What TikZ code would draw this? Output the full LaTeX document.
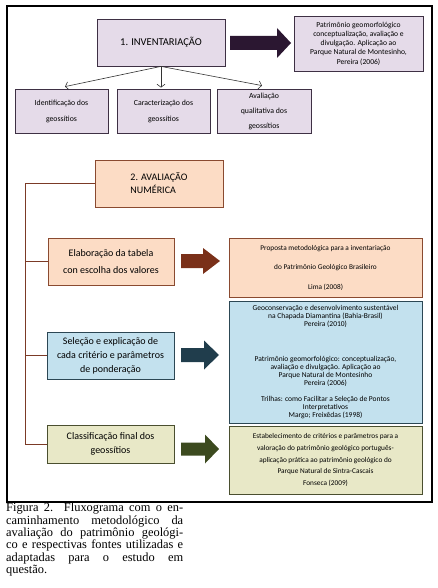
\documentclass[tikz,border=0pt]{standalone}
\usepackage{fontspec}
\newfontfamily\boxfont{Carlito}
\newfontfamily\capfont{Liberation Serif}
\usetikzlibrary{arrows.meta,calc}
\definecolor{lavfill}{HTML}{E5DBE9}
\definecolor{lavdraw}{HTML}{3E3044}
\definecolor{arrA}{HTML}{2B1731}
\definecolor{peachfill}{HTML}{FCDCC5}
\definecolor{peachdraw}{HTML}{8A4A30}
\definecolor{arrB}{HTML}{7A3019}
\definecolor{connc}{HTML}{7B3A26}
\definecolor{bluefill}{HTML}{C3E1EE}
\definecolor{bluedraw}{HTML}{2C4754}
\definecolor{arrC}{HTML}{203D4C}
\definecolor{olivefill}{HTML}{E8E8C7}
\definecolor{olivedraw}{HTML}{4A4F2F}
\definecolor{arrD}{HTML}{3C4A1F}
\newcommand\blockarr[7]{% color, tail x, base x, tip x, center y, shaft half, head half
  \fill[#1] (#2,#5-#6) -- (#3,#5-#6) -- (#3,#5-#7) -- (#4,#5) -- (#3,#5+#7) -- (#3,#5+#6) -- (#2,#5+#6) -- cycle;}
\begin{document}
\begin{tikzpicture}[x=1pt,y=-1pt,
  mybox/.style={draw, line width=0.8pt, inner sep=1pt, align=center, font=\boxfont},
  pbox/.style={mybox, draw=lavdraw, fill=lavfill},
  obox/.style={mybox, draw=peachdraw, fill=peachfill},
  bbox/.style={mybox, draw=bluedraw, fill=bluefill},
  gbox/.style={mybox, draw=olivedraw, fill=olivefill},
  thinarr/.style={draw=black!80, line width=0.6pt, -{Straight Barb[length=3pt,width=8pt]}},
  conn/.style={draw=connc, line width=0.8pt},
]
\useasboundingbox (0,0) rectangle (437,588);
\node[draw=black, line width=1.2pt, minimum width=425pt, minimum height=496pt, inner sep=0pt] (frame) at (219.5,254) {};

% Part 1
\node[pbox, minimum width=128pt, minimum height=47pt, font=\boxfont\fontsize{10.5}{12}\selectfont] (inv) at (161,42.5) {1. INVENTARIAÇÃO};
\node[pbox, minimum width=129pt, minimum height=55pt, font=\boxfont\fontsize{7.6}{9.2}\selectfont] (ref1) at (358.5,43.5)
  {Patrimônio geomorfológico\\conceptualização, avaliação e\\divulgação. Aplicação ao\\Parque Natural de Montesinho,\\Pereira (2006)};
\blockarr{arrA}{230}{277}{291}{43}{7}{15}

\node[pbox, minimum width=93pt, minimum height=44pt, font=\boxfont\fontsize{7.8}{16}\selectfont] (ida) at (61.5,111) {Identificação dos\\geossítios};
\node[pbox, minimum width=93pt, minimum height=44pt, font=\boxfont\fontsize{7.8}{16}\selectfont] (idb) at (163.5,111) {Caracterização dos\\geossítios};
\node[pbox, minimum width=94pt, minimum height=44pt, font=\boxfont\fontsize{7.8}{15}\selectfont] (idc) at (264,111) {Avaliação\\qualitativa dos\\geossítios};
\draw[thinarr] (inv.south) -- ($(ida.north)+(3.5,-2)$);
\draw[thinarr] (inv.south) -- ($(idb.north)+(-2.5,-1)$);
\draw[thinarr] (inv.south) -- ($(idc.north)+(-2,-3)$);

% Part 2
\node[obox, minimum width=128pt, minimum height=47pt, align=left, font=\boxfont\fontsize{10}{13}\selectfont] (num) at (159,183.5) {2. AVALIAÇÃO\\NUMÉRICA};
\node[obox, minimum width=126pt, minimum height=47pt, font=\boxfont\fontsize{10}{16.5}\selectfont] (elab) at (111,261.5) {Elaboração da tabela\\con escolha dos valores};
\node[bbox, minimum width=127pt, minimum height=47pt, font=\boxfont\fontsize{10}{14}\selectfont] (sel) at (110.5,355.5) {Seleção e explicação de\\cada critério e parâmetros\\de ponderação};
\node[gbox, minimum width=127pt, minimum height=38pt, font=\boxfont\fontsize{10}{14}\selectfont] (cls) at (110.5,444) {Classificação final dos\\geossítios};

\coordinate (tr) at (25,0);
\draw[conn] (num.west) -- (num.west -| tr) |- (cls.west);
\draw[conn] (tr |- elab.west) -- (elab.west);
\draw[conn] (tr |- sel.west) -- (sel.west);

\node[obox, minimum width=193pt, minimum height=59pt, font=\boxfont\fontsize{7.3}{19.5}\selectfont] (ref2) at (325.5,267.5)
  {Proposta metodológica para a inventariação\\do Patrimônio Geológico Brasileiro\\Lima (2008)};
\node[bbox, minimum width=193pt, minimum height=122pt, font=\boxfont\fontsize{7.5}{8}\selectfont] (ref3) at (325.5,362)
  {Geoconservação e desenvolvimento sustentável\\na Chapada Diamantina (Bahia-Brasil)\\Pereira (2010)\\[27pt]
   Patrimônio geomorfológico: conceptualização,\\avaliação e divulgação. Aplicação ao\\Parque Natural de Montesinho\\Pereira (2006)\\[8pt]
   Trilhas: como Facilitar a Seleção de Pontos\\Interpretativos\\Margo; Freixêdas (1998)};
\node[gbox, minimum width=193pt, minimum height=68pt, font=\boxfont\fontsize{7.3}{11.6}\selectfont] (ref4) at (325.5,460)
  {Estabelecimento de critérios e parâmetros para a\\valoração do patrimônio geológico português-\\aplicação prática ao patrimônio geológico do\\Parque Natural de Sintra-Cascais\\Fonseca (2009)};

\blockarr{arrB}{181}{203}{220}{261}{7}{13}
\blockarr{arrC}{181}{204}{219}{355}{7}{14.5}
\blockarr{arrD}{181}{205}{219}{449}{6.5}{14.5}

% caption
\node[anchor=north west, inner sep=0pt, text width=177pt, align=justify, font=\capfont\fontsize{12.4}{12.3}\selectfont] (cap) at (6,503)
  {Figura 2. Fluxograma com o en-\linebreak caminhamento metodológico da\linebreak avaliação do patrimônio geológi-\linebreak co e respectivas fontes utilizadas e\linebreak adaptadas para o estudo em\linebreak questão.};
\end{tikzpicture}
\end{document}
